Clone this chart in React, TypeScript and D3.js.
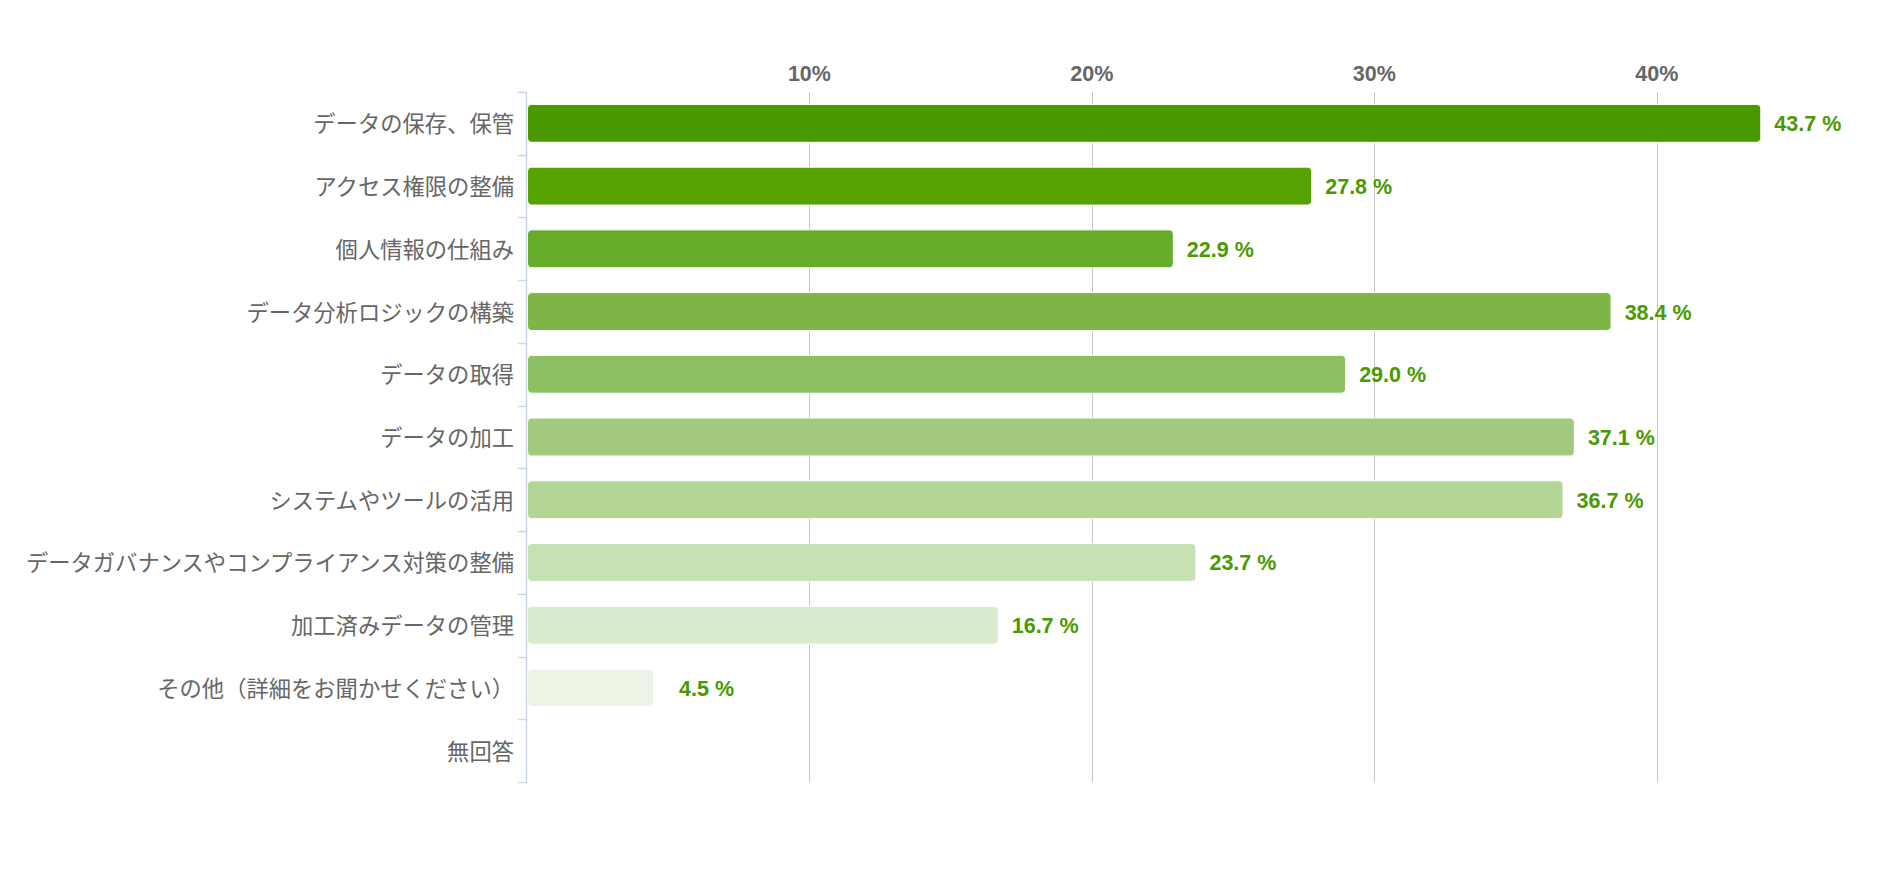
import * as d3 from "d3";

const categories = [
  "データの保存、保管",
  "アクセス権限の整備",
  "個人情報の仕組み",
  "データ分析ロジックの構築",
  "データの取得",
  "データの加工",
  "システムやツールの活用",
  "データガバナンスやコンプライアンス対策の整備",
  "加工済みデータの管理",
  "その他（詳細をお聞かせください）",
  "無回答",
];
const values = [43.7, 27.8, 22.9, 38.4, 29.0, 37.1, 36.7, 23.7, 16.7, 4.5, 0];
const barColors = [
  "#4a9900",
  "#57a100",
  "#67ab2b",
  "#7db646",
  "#8dc063",
  "#a1ca7e",
  "#b3d696",
  "#c6e1b2",
  "#d9ebcc",
  "#ecf4e6",
  "#f7faf3",
];
const xTicks = [10, 20, 30, 40];

const WIDTH = 1880;
const HEIGHT = 878;
const PLOT = { left: 527, right: 1798, top: 92, bottom: 782 };
const LABEL_FONT = "'Liberation Sans', Arial, 'Noto Sans CJK JP', sans-serif";

export default function App() {
  const x = d3.scaleLinear().domain([0, 45]).range([PLOT.left, PLOT.right]);
  const y = d3
    .scaleBand<string>()
    .domain(categories)
    .range([PLOT.top, PLOT.bottom])
    .paddingInner(0.38)
    .paddingOuter(0.19);
  const step = y.step();

  return (
    <div style={{ position: "absolute", left: 0, top: 0 }}>
      <svg width={WIDTH} height={HEIGHT} style={{ display: "block", background: "#fff" }}>
        {/* grid + top tick labels */}
        {xTicks.map((t) => (
          <g key={t}>
            <line
              x1={Math.round(x(t)) + 0.5}
              x2={Math.round(x(t)) + 0.5}
              y1={PLOT.top}
              y2={PLOT.bottom}
              stroke="#c6c6c6"
              strokeWidth={1}
            />
            <text
              x={x(t)}
              y={81}
              textAnchor="middle"
              fontFamily={LABEL_FONT}
              fontWeight="bold"
              fontSize={21.5}
              fill="#666666"
            >
              {t}%
            </text>
          </g>
        ))}

        {/* bars */}
        {categories.map((c, i) => {
          const v = values[i];
          const y0 = y(c) ?? 0;
          const x1 = x(v);
          const cy = y0 + y.bandwidth() / 2;
          return (
            <g key={c}>
              {v > 0 && (
                <rect
                  x={PLOT.left + 0.5}
                  y={y0 + 0.5}
                  width={Math.max(0, x1 - PLOT.left - 1)}
                  height={y.bandwidth() - 1}
                  rx={4}
                  fill={barColors[i]}
                  stroke="#ffffff"
                  strokeWidth={1}
                />
              )}
              {v > 0 && (
                <text
                  x={x1 + 80}
                  y={cy + 8}
                  textAnchor="end"
                  fontFamily={LABEL_FONT}
                  fontWeight="bold"
                  fontSize={21.5}
                  fill="#4a9900"
                >
                  {v.toFixed(1)} %
                </text>
              )}
              <text
                x={514}
                y={cy - 1}
                textAnchor="end"
                dominantBaseline="central"
                fontFamily="'Noto Sans CJK JP', sans-serif"
                fontSize={22.3}
                fill="#666666"
              >
                {c}
              </text>
            </g>
          );
        })}

        {/* category axis */}
        <line
          x1={PLOT.left - 0.5}
          x2={PLOT.left - 0.5}
          y1={PLOT.top}
          y2={PLOT.bottom}
          stroke="#ccd6eb"
          strokeWidth={1.5}
        />
        {d3.range(categories.length + 1).map((i) => {
          const ty = Math.round(PLOT.top + i * step) + 0.5;
          return (
            <line
              key={i}
              x1={PLOT.left - 9}
              x2={PLOT.left}
              y1={ty}
              y2={ty}
              stroke="#ccd6eb"
              strokeWidth={1.5}
            />
          );
        })}
      </svg>
    </div>
  );
}
